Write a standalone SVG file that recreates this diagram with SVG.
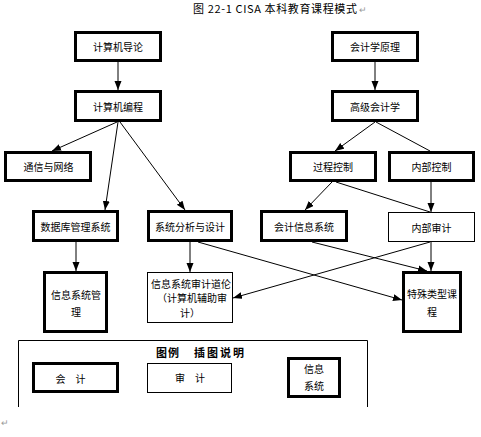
<svg xmlns="http://www.w3.org/2000/svg" width="481" height="437" viewBox="0 0 481 437">
<style>
text{font-family:"Noto Sans CJK SC","Liberation Sans",sans-serif;font-size:10px;fill:#000;text-anchor:middle;dominant-baseline:central}
.thick{fill:#fff;stroke:#000;stroke-width:3}
.thin{fill:#fff;stroke:#000;stroke-width:1}
.c line{stroke:#000;stroke-width:1}
.mark{fill:#999;font-size:9px;text-anchor:start}
</style>
<defs>
<marker id="ah" markerUnits="userSpaceOnUse" markerWidth="9" markerHeight="8" refX="9" refY="3.5" orient="auto">
<path d="M0,0 L9,3.5 L0,7 z" fill="#000"/>
</marker>
</defs>
<rect width="481" height="437" fill="#fff"/>
<text x="193" y="8" style="text-anchor:start;font-size:11px" textLength="164" lengthAdjust="spacing">图 22-1 CISA 本科教育课程模式</text>
<text class="mark" x="359" y="9">↵</text>

<g class="c">
<line x1="118" y1="62" x2="118" y2="90" marker-end="url(#ah)"/>
<line x1="375" y1="62" x2="375" y2="90" marker-end="url(#ah)"/>
<line x1="117" y1="122" x2="52" y2="151" marker-end="url(#ah)"/>
<line x1="118" y1="122" x2="105" y2="210" marker-end="url(#ah)"/>
<line x1="120" y1="122" x2="185" y2="210" marker-end="url(#ah)"/>
<line x1="375" y1="122" x2="335" y2="151" marker-end="url(#ah)"/>
<line x1="376" y1="122" x2="430" y2="151"/>
<line x1="332" y1="182" x2="305" y2="210" marker-end="url(#ah)"/>
<line x1="336" y1="182" x2="430" y2="212"/>
<line x1="431" y1="182" x2="431" y2="212" marker-end="url(#ah)"/>
<line x1="76" y1="242" x2="76" y2="271" marker-end="url(#ah)"/>
<line x1="190" y1="242" x2="190" y2="272" marker-end="url(#ah)"/>
<line x1="198" y1="242" x2="402" y2="300" marker-end="url(#ah)"/>
<line x1="312" y1="242" x2="427" y2="271" marker-end="url(#ah)"/>
<line x1="431" y1="242" x2="431" y2="271" marker-end="url(#ah)"/>
<line x1="430" y1="242" x2="233" y2="298" marker-end="url(#ah)"/>
</g>

<g id="n1"><rect class="thick" x="75.5" y="32.5" width="85" height="28"/><text x="118" y="46.5">计算机导论</text></g>
<g id="n2"><rect class="thick" x="75.5" y="91.5" width="85" height="29"/><text x="118" y="106">计算机编程</text></g>
<g id="n3"><rect class="thick" x="332.5" y="32.5" width="85" height="28"/><text x="375" y="46.5">会计学原理</text></g>
<g id="n4"><rect class="thick" x="332.5" y="91.5" width="85" height="29"/><text x="375" y="106">高级会计学</text></g>
<g id="n5"><rect class="thick" x="5.5" y="152.5" width="85" height="28"/><text x="48.5" y="166.5">通信与网络</text></g>
<g id="n6"><rect class="thick" x="290.5" y="152.5" width="85" height="28"/><text x="333" y="166.5">过程控制</text></g>
<g id="n7"><rect class="thick" x="389.5" y="152.5" width="84" height="28"/><text x="431.5" y="166.5">内部控制</text></g>
<g id="n8"><rect class="thick" x="33.5" y="211.5" width="84" height="29"/><text x="75.5" y="226">数据库管理系统</text></g>
<g id="n9"><rect class="thick" x="148.5" y="211.5" width="83" height="29"/><text x="190" y="226">系统分析与设计</text></g>
<g id="n10"><rect class="thick" x="261.5" y="211.5" width="85" height="29"/><text x="304" y="226">会计信息系统</text></g>
<g id="n11"><rect class="thin" x="388.5" y="212.5" width="86" height="29"/><text x="431.5" y="227">内部审计</text></g>
<g id="n12"><rect class="thick" x="44.5" y="272.5" width="62" height="59"/><text x="76" y="294">信息系统管</text><text x="76" y="311">理</text></g>
<g id="n13"><rect class="thin" x="147.5" y="272.5" width="85" height="50"/><text x="191" y="283">信息系统审计道伦</text><text x="192" y="297">（计算机辅助审</text><text x="190" y="312">计）</text></g>
<g id="n14"><rect class="thick" x="403.5" y="272.5" width="57" height="59"/><text x="432" y="293">特殊类型课</text><text x="432" y="311">程</text></g>

<g id="legend">
<path d="M18.5,407 V340.5 H367.5 V407" fill="none" stroke="#000" stroke-width="1"/>
<text x="168" y="352" style="font-weight:bold;font-size:11px;letter-spacing:1px">图例</text>
<text x="220" y="352" style="font-weight:bold;font-size:11px;letter-spacing:2px">插图说明</text>
<g id="lg1"><rect class="thick" x="33.5" y="363.5" width="84" height="28"/><text x="70.5" y="378">会　计</text></g>
<g id="lg2"><rect class="thin" x="147.5" y="363.5" width="84" height="29"/><text x="190" y="377">审　计</text></g>
<g id="lg3"><rect class="thick" x="288.5" y="358.5" width="51" height="38"/><text x="314" y="368">信息</text><text x="314" y="385">系统</text></g>
</g>
<text class="mark" x="1" y="422">↵</text>
</svg>
